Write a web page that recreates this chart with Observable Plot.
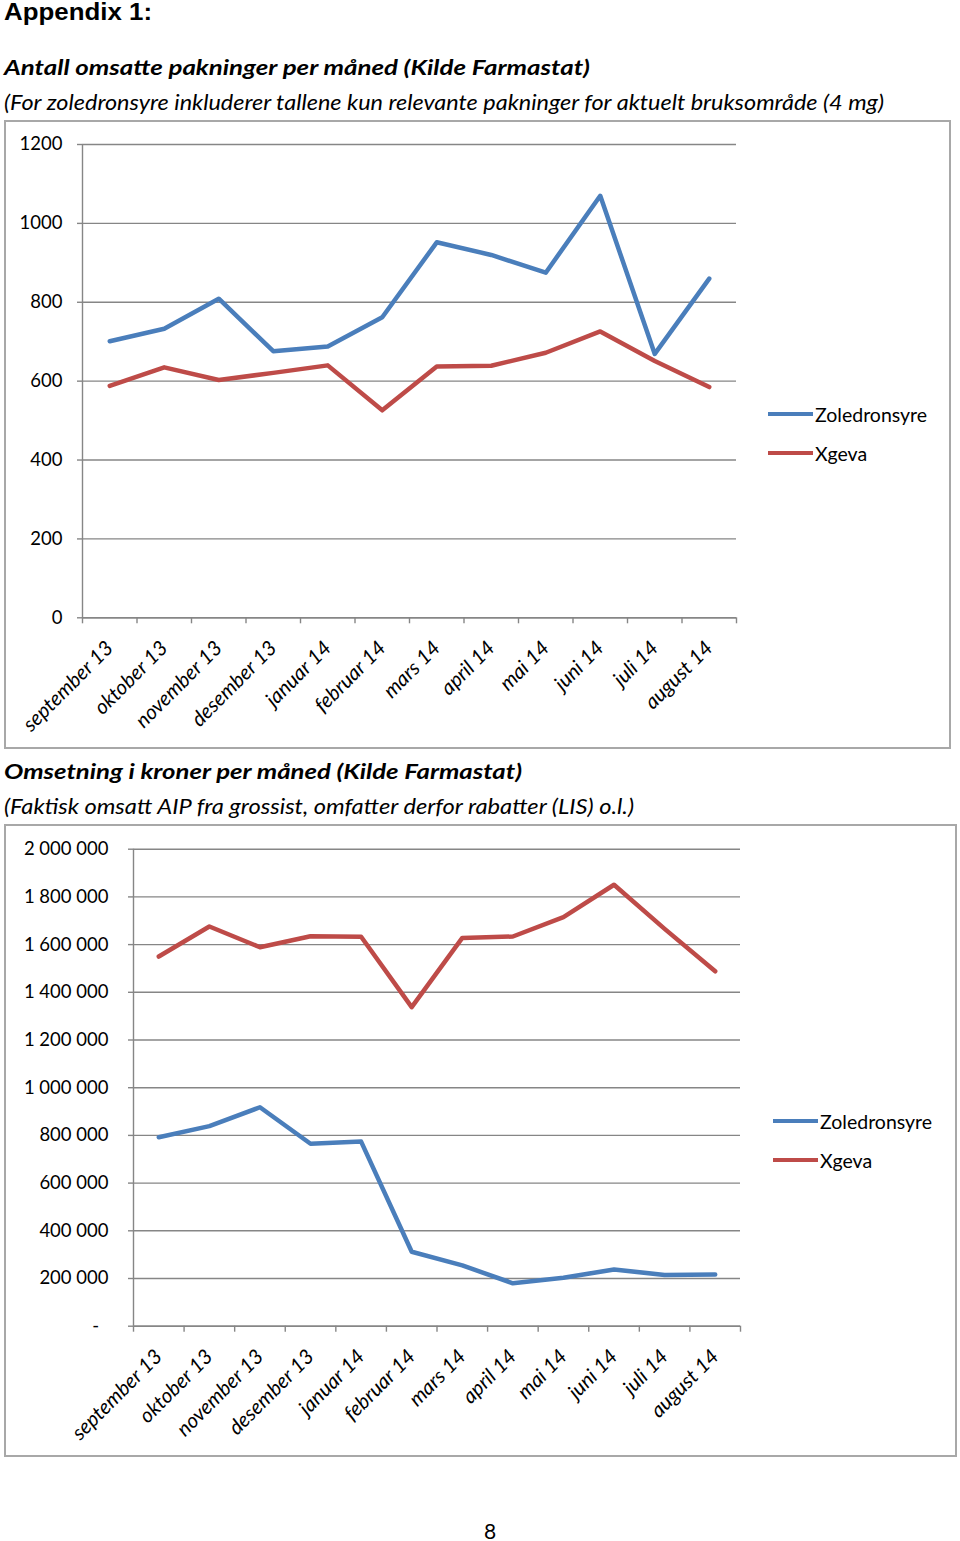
<!DOCTYPE html>
<html><head><meta charset="utf-8">
<script src="https://cdn.jsdelivr.net/npm/d3@7"></script>
<script src="https://cdn.jsdelivr.net/npm/@observablehq/plot@0.6"></script>
<style>
body{margin:0;background:#fff;width:960px;height:1541px;position:relative;font-family:Lato,sans-serif;overflow:hidden;color:#000}
.abs{position:absolute;white-space:nowrap;line-height:1;transform-origin:0 0}
.frame{position:absolute;border:2px solid #a8a8a8;box-sizing:border-box;pointer-events:none}
.leg{position:absolute;display:flex;align-items:center;font-size:19.5px;white-space:nowrap}
.leg span.sw{display:inline-block;width:45px;height:4.5px;margin-right:2px}
svg.plot{position:absolute}
</style></head><body>
<script>
// ---- data ----
const months = ["september 13","oktober 13","november 13","desember 13","januar 14","februar 14","mars 14","april 14","mai 14","juni 14","juli 14","august 14"];
const series = ["Zoledronsyre","Xgeva"];
const seriesColors = ["#4a7ebb","#be4b48"];
const zoledronsyrePakninger = [701,733,809,676,688,762,952,920,875,1070,669,860];
const xgevaPakninger = [588,635,603,621,640,526,637,639,672,726,651,585];
const zoledronsyreKroner = [792000,839000,918000,765000,774000,312000,255000,180000,203000,238000,215000,217000];
const xgevaKroner = [1550000,1676000,1589000,1635000,1633000,1338000,1628000,1634000,1715000,1851000,1666000,1488000];
const pakningerTicks = [0,200,400,600,800,1000,1200];
const kronerTicks = [0,200000,400000,600000,800000,1000000,1200000,1400000,1600000,1800000,2000000];

const grid = "#868686";
function rows(a, b) {
  return months.flatMap((m, i) => [
    {i, month: m, series: series[0], value: a[i]},
    {i, month: m, series: series[1], value: b[i]}
  ]);
}
const fmtKr = v => v === 0 ? "-\u00a0\u00a0" : d3.format(",")(v).replace(/,/g, "\u00a0");

function chart({data, yTicks, yFormat, width, height, ml, mr, mt, mb, pad}) {
  const bounds = d3.range(months.length + 1).map(k => k - 0.5);
  const svg = Plot.plot({
    width, height, marginLeft: ml, marginRight: mr, marginTop: mt, marginBottom: mb,
    style: {fontFamily: "Lato, sans-serif", fontSize: "18.5px", color: "#000", background: "transparent", overflow: "visible"},
    x: {type: "linear", domain: [-0.5, months.length - 0.5], axis: null, label: null},
    y: {domain: [0, d3.max(yTicks)], axis: null, label: null},
    color: {domain: series, range: seriesColors},
    marks: [
      Plot.gridY(yTicks, {stroke: grid, strokeOpacity: 1, strokeWidth: 1.4}),
      Plot.axisY(yTicks, {label: null, tickSize: 5, tickPadding: pad, stroke: grid, strokeWidth: 1.4, tickFormat: yFormat, fill: "#000"}),
      Plot.ruleX([-0.5], {stroke: grid, strokeWidth: 1.4}),
      Plot.ruleY([0], {stroke: grid, strokeWidth: 1.4}),
      Plot.axisX(bounds, {label: null, tickSize: 6, stroke: grid, strokeWidth: 1.4, tickFormat: () => ""}),
      Plot.axisX(d3.range(months.length), {label: null, tickSize: 0, tickPadding: 27, tickRotate: -45, tickFormat: i => months[i], fontSize: 20.5, fontStyle: "italic", fill: "#000"}),
      Plot.line(data, {x: "i", y: "value", z: "series", stroke: "series", strokeWidth: 4.5, strokeLinejoin: "round", strokeLinecap: "round"})
    ]
  });
  svg.classList.add("plot");
  return svg;
}

function addText(txt, left, top, css, targetWidth) {
  const d = document.createElement("div");
  d.className = "abs";
  d.textContent = txt;
  d.style.left = left + "px";
  d.style.top = top + "px";
  Object.assign(d.style, css);
  document.body.appendChild(d);
  if (targetWidth) {
    const w = d.getBoundingClientRect().width;
    if (w > 0) d.style.transform = `scaleX(${targetWidth / w})`;
  }
  return d;
}
function addFrame(l, t, w, h) {
  const f = document.createElement("div");
  f.className = "frame";
  Object.assign(f.style, {left: l + "px", top: t + "px", width: w + "px", height: h + "px"});
  document.body.appendChild(f);
}
function addLegend(left, top, gap) {
  series.forEach((s, k) => {
    const d = document.createElement("div");
    d.className = "leg";
    d.style.left = left + "px";
    d.style.top = (top + k * gap - 10) + "px";
    d.style.height = "20px";
    d.innerHTML = `<span class="sw" style="background:${seriesColors[k]}"></span><span>${s}</span>`;
    document.body.appendChild(d);
  });
}

addText("Appendix 1:", 4, 0, {fontFamily: "'Liberation Sans', Arial, sans-serif", fontWeight: "bold", fontSize: "24px"}, 148);
addText("Antall omsatte pakninger per måned (Kilde Farmastat)", 4, 56, {fontWeight: "bold", fontStyle: "italic", fontSize: "21px"}, 586);
addText("(For zoledronsyre inkluderer tallene kun relevante pakninger for aktuelt bruksområde (4 mg)", 4, 91, {fontStyle: "italic", fontSize: "21px"}, 880);

const c1 = chart({data: rows(zoledronsyrePakninger, xgevaPakninger), yTicks: pakningerTicks, yFormat: d => String(d),
  width: 947, height: 629, ml: 78, mr: 215, mt: 24, mb: 131.7, pad: 15});
c1.style.left = "4px"; c1.style.top = "120px";
document.body.appendChild(c1);
addFrame(4, 120, 947, 629);
addLegend(768, 414, 39);

addText("Omsetning i kroner per måned (Kilde Farmastat)", 4, 760, {fontWeight: "bold", fontStyle: "italic", fontSize: "21px"}, 518);
addText("(Faktisk omsatt AIP fra grossist, omfatter derfor rabatter (LIS) o.l.)", 4, 795, {fontStyle: "italic", fontSize: "21px"}, 630);

const c2 = chart({data: rows(zoledronsyreKroner, xgevaKroner), yTicks: kronerTicks, yFormat: fmtKr,
  width: 953, height: 633, ml: 129, mr: 217, mt: 24.7, mb: 131.3, pad: 20});
c2.style.left = "4px"; c2.style.top = "824px";
document.body.appendChild(c2);
addFrame(4, 824, 953, 633);
addLegend(773, 1121, 39);

addText("8", 484, 1520, {fontSize: "21px"});
</script>
</body></html>
